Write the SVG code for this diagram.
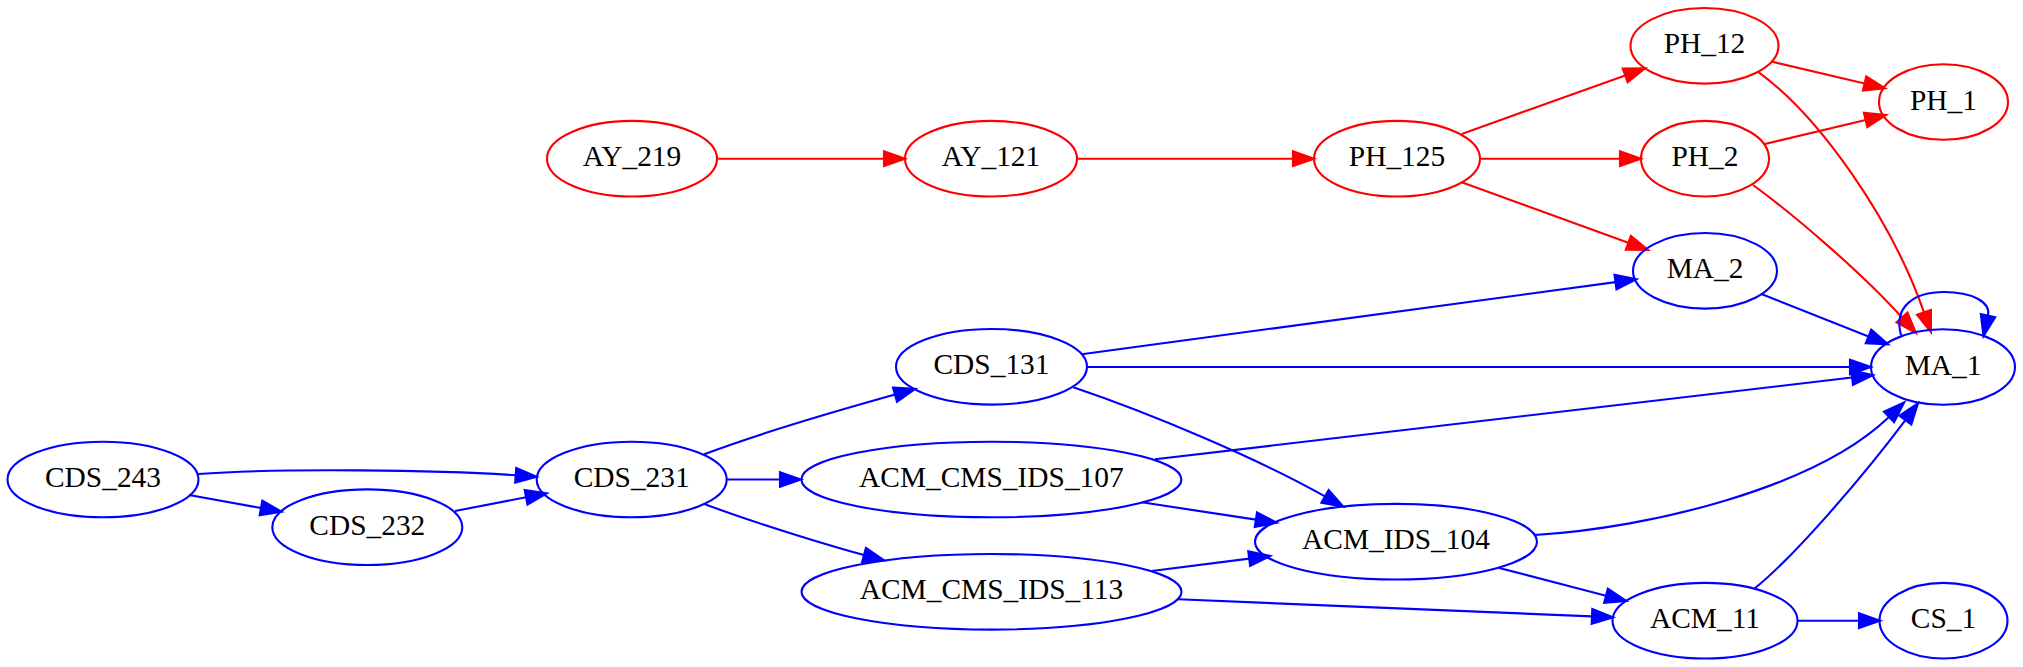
<svg xmlns="http://www.w3.org/2000/svg" width="2023" height="667" viewBox="0 0 2023 667">
<style>
.r ellipse{fill:none;stroke:#ff0000;stroke-width:2.1}
.b ellipse{fill:none;stroke:#0000ff;stroke-width:2.1}
text{font-family:"Liberation Serif","Times New Roman",serif;font-size:29.4px;text-anchor:middle;fill:#000}
.er{fill:none;stroke:#ff0000;stroke-width:2.1;marker-end:url(#ar)}
.eb{fill:none;stroke:#0000ff;stroke-width:2.1;marker-end:url(#ab)}
</style>
<defs>
<marker id="ar" markerUnits="userSpaceOnUse" markerWidth="30" markerHeight="20" refX="0" refY="0" orient="auto" viewBox="-2 -10 30 20" overflow="visible">
<path d="M0,-7.35 L21,0 L0,7.35 Z" fill="#ff0000" stroke="#ff0000" stroke-width="2.1"/>
</marker>
<marker id="ab" markerUnits="userSpaceOnUse" markerWidth="30" markerHeight="20" refX="0" refY="0" orient="auto" viewBox="-2 -10 30 20" overflow="visible">
<path d="M0,-7.35 L21,0 L0,7.35 Z" fill="#0000ff" stroke="#0000ff" stroke-width="2.1"/>
</marker>
</defs>
<rect x="0" y="0" width="2023" height="667" fill="#ffffff"/>
<g id="edges">
<path class="er" d="M717,158.7 L884,158.7"/>
<path class="er" d="M1077,158.7 L1293,158.7"/>
<path class="er" d="M1461.7,134 L1625.2,75.4"/>
<path class="er" d="M1480,158.7 L1620,158.7"/>
<path class="er" d="M1461,182 L1628.3,242.8"/>
<path class="er" d="M1772,61.7 L1864.6,83.5"/>
<path class="er" d="M1765,144 L1865.6,119.9"/>
<path class="er" d="M1758.7,72.3 C1819,116 1891,218 1924,312.3"/>
<path class="er" d="M1753,185 C1793.5,214.5 1862,273 1902,317.5"/>
<path class="eb" d="M1762,294.3 L1868.5,336.5"/>
<path class="eb" d="M1901,335 C1893,306 1915,292 1944,292 C1972,292 1991,302 1988,315.6"/>
<path class="eb" d="M1087,367 L1850,367"/>
<path class="eb" d="M1081.7,354.3 L1615.5,282.1"/>
<path class="eb" d="M1073.3,387.3 C1149,412.9 1255.4,457.2 1325,496.4"/>
<path class="eb" d="M1155,459.3 L1852.1,377.5"/>
<path class="eb" d="M1141.7,502.3 L1255.9,519.6"/>
<path class="eb" d="M1151.7,571 L1249.2,558.6"/>
<path class="eb" d="M1178.3,599.3 L1592,616.4"/>
<path class="eb" d="M1534.7,535 C1650,528 1815,488 1889,417"/>
<path class="eb" d="M1498.3,567.7 L1606,595.7"/>
<path class="eb" d="M1754.7,588.3 C1793.7,557.3 1863.4,476.1 1905.4,420.1"/>
<path class="eb" d="M1797,620.7 L1859,620.7"/>
<path class="eb" d="M704.3,454.3 C760,433 840,410 895,394.6"/>
<path class="eb" d="M726.7,479.5 L780,479.5"/>
<path class="eb" d="M704.3,504 C760,525 840,548.5 864,555"/>
<path class="eb" d="M198.3,474 C280,468 440,470 515.7,475.3"/>
<path class="eb" d="M189,495 L261,508"/>
<path class="eb" d="M455,511 L526.1,497.3"/>
</g>
<g id="AY_219" class="r"><ellipse cx="632" cy="158.7" rx="85" ry="37.8"/><text x="632" y="166.3">AY_219</text></g>
<g id="AY_121" class="r"><ellipse cx="991" cy="158.7" rx="86" ry="37.8"/><text x="991" y="166.3">AY_121</text></g>
<g id="PH_125" class="r"><ellipse cx="1397" cy="158.7" rx="83" ry="37.8"/><text x="1397" y="166.3">PH_125</text></g>
<g id="PH_12" class="r"><ellipse cx="1704.5" cy="45.8" rx="74" ry="37.8"/><text x="1704.5" y="53.4">PH_12</text></g>
<g id="PH_2" class="r"><ellipse cx="1705" cy="158.7" rx="64" ry="37.8"/><text x="1705" y="166.3">PH_2</text></g>
<g id="PH_1" class="r"><ellipse cx="1943.5" cy="102" rx="64.5" ry="37.8"/><text x="1943.5" y="109.6">PH_1</text></g>
<g id="MA_2" class="b"><ellipse cx="1705" cy="270.8" rx="72" ry="37.8"/><text x="1705" y="278.4">MA_2</text></g>
<g id="MA_1" class="b"><ellipse cx="1943" cy="367" rx="72" ry="37.8"/><text x="1943" y="374.6">MA_1</text></g>
<g id="CDS_131" class="b"><ellipse cx="991.5" cy="366.8" rx="95.5" ry="37.8"/><text x="991.5" y="374.4">CDS_131</text></g>
<g id="CDS_243" class="b"><ellipse cx="103" cy="479.5" rx="95.5" ry="37.8"/><text x="103" y="487.1">CDS_243</text></g>
<g id="CDS_232" class="b"><ellipse cx="367.3" cy="527.2" rx="95" ry="37.8"/><text x="367.3" y="534.8">CDS_232</text></g>
<g id="CDS_231" class="b"><ellipse cx="631.7" cy="479.5" rx="95" ry="37.8"/><text x="631.7" y="487.1">CDS_231</text></g>
<g id="ACM_CMS_IDS_107" class="b"><ellipse cx="991.4" cy="479.5" rx="190" ry="37.8"/><text x="991.4" y="487.1">ACM_CMS_IDS_107</text></g>
<g id="ACM_CMS_IDS_113" class="b"><ellipse cx="991.5" cy="591.8" rx="190" ry="37.8"/><text x="991.5" y="599.4">ACM_CMS_IDS_113</text></g>
<g id="ACM_IDS_104" class="b"><ellipse cx="1396" cy="541.7" rx="141" ry="37.8"/><text x="1396" y="549.3">ACM_IDS_104</text></g>
<g id="ACM_11" class="b"><ellipse cx="1705" cy="620.7" rx="92.5" ry="37.8"/><text x="1705" y="628.3">ACM_11</text></g>
<g id="CS_1" class="b"><ellipse cx="1943.5" cy="620.7" rx="64" ry="37.8"/><text x="1943.5" y="628.3">CS_1</text></g>
</svg>
